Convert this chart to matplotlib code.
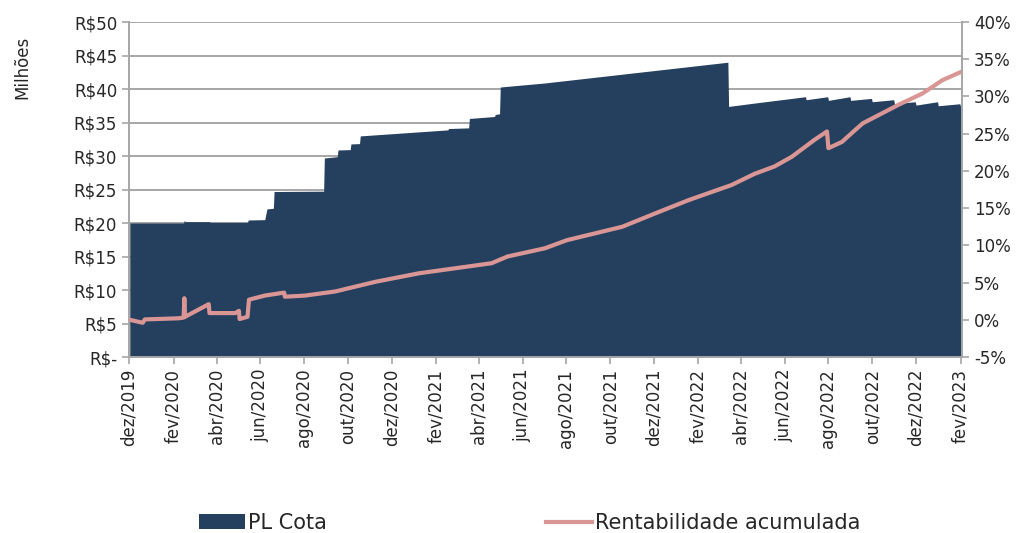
import matplotlib
matplotlib.use("Agg")
import matplotlib.pyplot as plt
import matplotlib.dates as mdates
import matplotlib.ticker as mticker
import pandas as pd

# PL Cota (R$ milhões); repeated dates give the vertical steps
pl_dates = ["2019-12-02", "2020-02-15", "2020-02-16", "2020-02-17", "2020-03-22", "2020-03-23",
            "2020-05-14", "2020-05-15", "2020-06-07", "2020-06-10", "2020-06-19", "2020-06-20",
            "2020-08-28", "2020-08-29", "2020-09-16", "2020-09-17", "2020-10-04", "2020-10-05",
            "2020-10-17", "2020-10-18", "2021-02-17", "2021-02-18", "2021-03-18", "2021-03-19",
            "2021-04-23", "2021-04-24", "2021-04-30", "2021-05-01", "2021-07-02", "2022-03-14",
            "2022-03-15", "2022-04-20", "2022-06-30", "2022-07-01", "2022-07-31", "2022-08-01",
            "2022-08-31", "2022-09-01", "2022-09-30", "2022-10-01", "2022-10-31", "2022-11-01",
            "2022-11-30", "2022-12-01", "2022-12-31", "2023-01-01", "2023-01-31", "2023-02-01",
            "2023-02-03"]
pl_values = [20.0, 20.0, 20.4, 20.2, 20.2, 20.1,
             20.1, 20.45, 20.5, 22.1, 22.2, 24.7,
             24.75, 29.7, 29.9, 30.9, 30.95, 31.8,
             31.85, 33.0, 33.9, 34.1, 34.2, 35.6,
             35.9, 36.2, 36.3, 40.3, 40.9, 44.0,
             37.4, 37.9, 38.85, 38.4, 38.85, 38.3,
             38.85, 38.3, 38.6, 38.1, 38.4, 37.8,
             38.1, 37.6, 38.1, 37.5, 37.8, 37.4,
             37.4]

# Rentabilidade acumulada (%)
ret_dates = ["2019-12-02", "2019-12-20", "2019-12-23", "2020-02-08", "2020-02-15", "2020-02-16",
             "2020-02-17", "2020-03-21", "2020-03-22", "2020-04-27", "2020-05-02", "2020-05-03",
             "2020-05-14", "2020-05-16", "2020-06-07", "2020-07-04", "2020-07-05", "2020-08-02",
             "2020-09-13", "2020-11-08", "2021-01-08", "2021-03-09", "2021-04-19", "2021-05-11",
             "2021-07-02", "2021-08-02", "2021-10-18", "2021-12-03", "2022-01-19", "2022-03-19",
             "2022-04-20", "2022-05-18", "2022-06-11", "2022-07-13", "2022-07-30", "2022-08-01",
             "2022-08-20", "2022-09-05", "2022-09-18", "2022-11-07", "2022-12-10", "2023-01-07",
             "2023-02-03"]
ret_values = [0.0, -0.4, 0.05, 0.2, 0.3, 2.9,
              0.4, 2.1, 0.9, 0.9, 1.2, 0.1,
              0.4, 2.7, 3.25, 3.65, 3.1, 3.25,
              3.8, 5.1, 6.25, 7.05, 7.6, 8.5,
              9.6, 10.7, 12.5, 14.3, 16.1, 18.1,
              19.6, 20.6, 21.9, 24.2, 25.3, 23.05,
              23.9, 25.3, 26.4, 28.9, 30.4, 32.2,
              33.35]

meses = {1: "jan", 2: "fev", 3: "mar", 4: "abr", 5: "mai", 6: "jun",
         7: "jul", 8: "ago", 9: "set", 10: "out", 11: "nov", 12: "dez"}

navy = "#253F5F"
pink = "#D99694"
grey = "#A6A6A6"
txt = "#262626"

plt.rcParams["font.family"] = "DejaVu Sans"
fig = plt.figure(figsize=(10.25, 5.33), dpi=100)
ax = fig.add_axes([0.1259, 0.3302, 0.8126, 0.6285])
ax2 = ax.twinx()

pd_dates = pd.to_datetime(pl_dates)
ax.fill_between(pd_dates, 0, pl_values, color=navy, lw=0, label="PL Cota")
ax2.plot(pd.to_datetime(ret_dates), ret_values, color=pink, lw=3, label="Rentabilidade acumulada")

ax.set_xlim(pd.Timestamp("2019-12-01"), pd.Timestamp("2023-02-03"))
ax.set_ylim(0, 50)
ax2.set_ylim(-5, 40)
ax.set_yticks(range(0, 51, 5))
ax2.set_yticks(range(-5, 41, 5))
ax.yaxis.set_major_formatter(mticker.FuncFormatter(lambda v, p: "R$-" if v == 0 else f"R${v:.0f}"))
ax2.yaxis.set_major_formatter(mticker.FuncFormatter(lambda v, p: f"{v:.0f}%"))

ax.xaxis.set_major_locator(mdates.MonthLocator(bymonth=[2, 4, 6, 8, 10, 12]))
ax.xaxis.set_major_formatter(mticker.FuncFormatter(
    lambda v, p: f"{meses[mdates.num2date(v).month]}/{mdates.num2date(v).year}"))
for lab in ax.get_xticklabels():
    pass
ax.tick_params(axis="x", labelrotation=90)

ax.set_axisbelow(True)
ax.yaxis.grid(True, color=grey, lw=1.4)
for a in (ax, ax2):
    a.tick_params(colors=grey, labelcolor=txt, labelsize=12, length=5, width=1.2)
    for s in a.spines.values():
        s.set_color(grey)
        s.set_linewidth(1.4)
    a.spines["top"].set_visible(False)
ax2.spines["left"].set_visible(False)
ax2.spines["bottom"].set_visible(False)
ax.spines["right"].set_visible(False)

fig.text(0.022, 0.873, "Milhões", rotation=90, ha="center", va="center", fontsize=12, color=txt)

h1, l1 = ax.get_legend_handles_labels()
h2, l2 = ax2.get_legend_handles_labels()
fig.legend(h1 + h2, l1 + l2, loc="center", bbox_to_anchor=(0.517, 0.019), ncol=2,
           frameon=False, fontsize=15, handlelength=2.2, handletextpad=0.15,
           columnspacing=10.5, labelcolor=txt)

fig.savefig("out.png", dpi=100)
